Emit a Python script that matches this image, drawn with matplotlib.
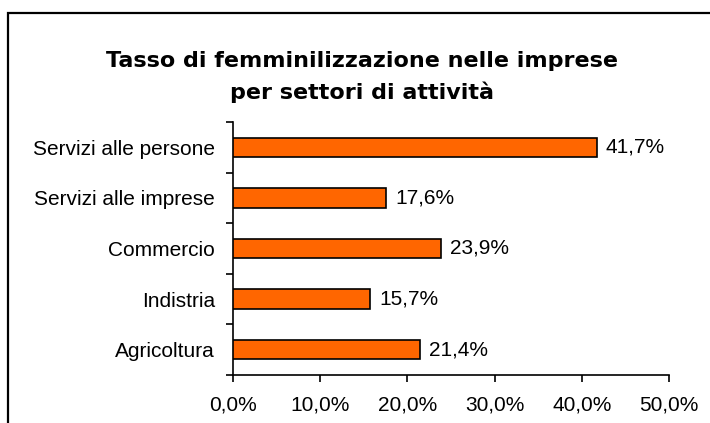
import matplotlib
matplotlib.use("Agg")
from matplotlib import pyplot as plt
from matplotlib.patches import Rectangle
from matplotlib.ticker import FuncFormatter, FixedLocator

categories = ["Servizi alle persone", "Servizi alle imprese", "Commercio",
              "Indistria", "Agricoltura"]
values = [41.7, 17.6, 23.9, 15.7, 21.4]
xticks = [0, 10, 20, 30, 40, 50]
title_lines = ["Tasso di femminilizzazione nelle imprese",
               "per settori di attività"]

W, H = 710, 423
fig = plt.figure(figsize=(W / 100, H / 100), dpi=100)
fig.patch.set_facecolor("white")

# frame: only top and left edges fall inside the picture
fig.patches.append(Rectangle((8 / W, -0.1), 1.0, 1.1 - 12.7 / H,
                             transform=fig.transFigure, fill=False,
                             edgecolor="black", linewidth=1.6))

ax = fig.add_axes([233 / W, 1 - 375 / H, (669 - 233) / W, (375 - 122) / H])

lab_font = dict(family="Liberation Sans", fontsize=15)

ypos = list(range(len(categories)))
ax.barh(ypos, values, height=0.38, color="#FF6600", edgecolor="black",
        linewidth=1.2, zorder=3)
for y, v in zip(ypos, values):
    ax.annotate(f"{v:.1f}%".replace(".", ","), (v, y), xytext=(6.5, 0),
                textcoords="offset points", va="center", ha="left",
                **lab_font)

ax.set_ylim(len(categories) - 0.5, -0.5)
ax.set_xlim(0, 50)
ax.set_yticks(ypos)
ax.set_yticklabels(categories, **lab_font)
ax.yaxis.set_minor_locator(FixedLocator([i + 0.5 for i in range(-1, len(categories))]))
ax.tick_params(axis="y", which="major", length=0, pad=13)
ax.tick_params(axis="y", which="minor", length=5, width=1.2, direction="out")
ax.set_xticks(xticks)
ax.xaxis.set_major_formatter(FuncFormatter(lambda v, p: f"{v:.1f}%".replace(".", ",")))
ax.tick_params(axis="x", length=5, width=1.2, direction="out", pad=10)
for lab in ax.get_xticklabels():
    lab.set_family("Liberation Sans")
    lab.set_fontsize(15)

for side in ["top", "right"]:
    ax.spines[side].set_visible(False)
for side in ["left", "bottom"]:
    ax.spines[side].set_linewidth(1.2)

for line, base in zip(title_lines, [67, 99]):
    fig.text(362 / W, 1 - base / H, line, ha="center", va="baseline",
             fontsize=16, fontweight="bold", family="DejaVu Sans")

fig.savefig("out.png", dpi=100, facecolor="white")
